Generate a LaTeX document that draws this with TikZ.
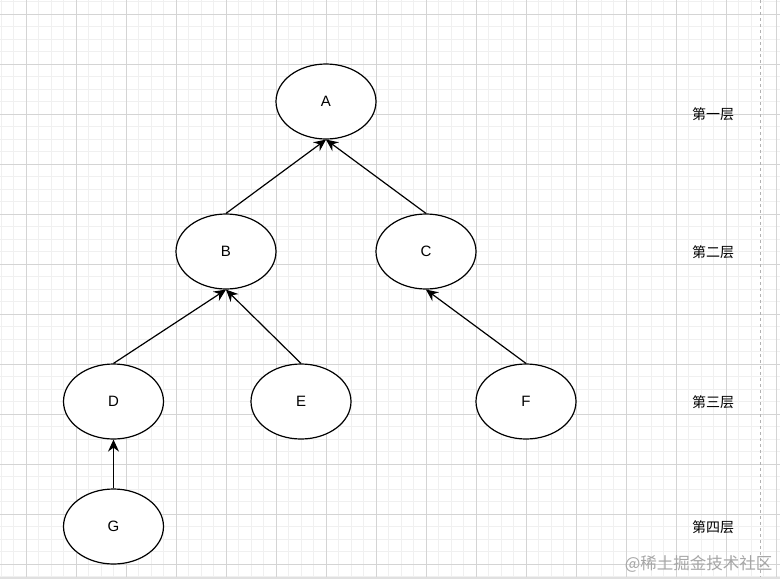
\documentclass[tikz,border=0pt]{standalone}
\usepackage{fontspec}
\setmainfont{Liberation Sans}
\newfontfamily\cjk{Noto Sans CJK SC}
\usetikzlibrary{positioning,arrows.meta,shapes.geometric}

\begin{document}
\begin{tikzpicture}[x=1pt, y=-1pt,
  vertex/.style={ellipse, draw, line width=1.2pt, fill=white, minimum width=100pt,
    minimum height=75pt, inner sep=0pt, font=\fontsize{15}{15}\selectfont},
  layer/.style={font=\cjk\fontsize{14}{14}\selectfont},
  >={Stealth[length=12pt, width=11pt, inset=4pt]}]
\useasboundingbox (0,0) rectangle (780,579);
\fill[white] (0,0) rectangle (780,579);
% grid
\foreach \k in {0,...,62} \draw[black!6, line width=0.8pt] (1+12.5*\k,0) -- ++(0,579);
\foreach \k in {0,...,46} \draw[black!6, line width=0.8pt] (0,1.5+12.5*\k) -- ++(780,0);
\foreach \k in {0,...,15} \draw[black!17, line width=0.8pt] (26+50*\k,0) -- ++(0,579);
\foreach \k in {0,...,11} \draw[black!17, line width=0.8pt] (0,14+50*\k) -- ++(780,0);
\draw[black!30, dashed, line width=1pt] (760,0) -- (760,577);
\fill[black!12] (0,577) rectangle (780,579);

\node[vertex] (A) at (326,101.5) {A};
\node[vertex] (B) at (226,251.5) {B};
\node[vertex] (C) at (426,251.5) {C};
\node[vertex] (D) at (113.5,401.5) {D};
\node[vertex] (E) at (301,401.5) {E};
\node[vertex] (F) at (526,401.5) {F};
\node[vertex] (G) at (113.5,526.5) {G};

\node[layer] (l1) at (713,114) {第一层};
\node[layer] (l2) at (713,252) {第二层};
\node[layer] (l3) at (713,402) {第三层};
\node[layer] (l4) at (713,527) {第四层};
\node[anchor=east, text=black!35, font=\cjk\fontsize{16.5}{16.5}\selectfont] (mark) at (776,564) {@稀土掘金技术社区};

\path[->, line width=1.2pt]
(B.north) edge (A.south)
(C.north) edge (A.south)
(D.north) edge (B.south)
(E.north) edge (B.south)
(F.north) edge (C.south)
(G.north) edge (D.south);
\end{tikzpicture}
\end{document}
